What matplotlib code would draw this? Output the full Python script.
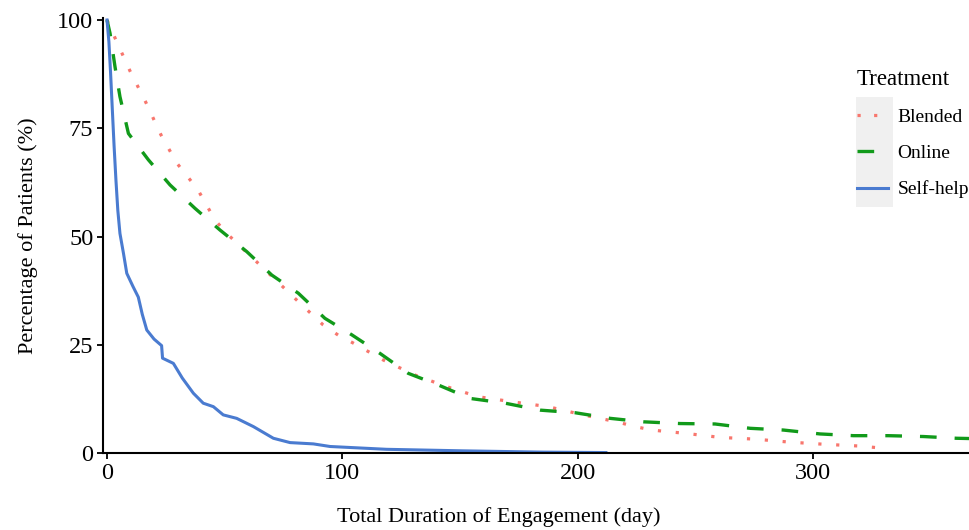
import numpy as np
import matplotlib.pyplot as plt
from matplotlib.lines import Line2D
from matplotlib.patches import Rectangle

plt.rcParams['font.family'] = ['Liberation Serif', 'DejaVu Serif']

# Blended (red, dotted)
blended_x = [0, 3.7, 9.8, 16.4, 23, 29.6, 38.5, 45.9, 50.9, 66.4, 82, 91.8, 98.3, 104.6,
             117.3, 130.9, 144.4, 157.7, 172.5, 187.4, 202.3, 216.6, 224.4, 231.5, 246.4,
             260.5, 275.4, 290.3, 305.2, 320, 327.8, 330]
blended_y = [100, 95.5, 88.2, 81.1, 73.4, 67.0, 60.9, 53.8, 50.7, 42.7, 34.6, 29.6, 27.2, 25.4,
             21.5, 18.0, 15.3, 13.0, 11.8, 10.7, 8.8, 7.2, 6.1, 5.3, 4.5,
             3.6, 3.2, 2.5, 2.0, 1.6, 1.2, 0]

# Online (green, dashed)
online_x = [0, 1.3, 3.4, 5.5, 9.1, 17.6, 26.8, 37.4, 48, 59.4, 70, 81.3, 92.6, 104, 116,
            128, 140.8, 154.3, 169.2, 184, 198.9, 213.8, 228, 243.5, 258.4, 273.3, 287.4,
            303, 317.2, 332, 347, 361, 370]
online_y = [100, 96.9, 89.2, 82.3, 73.8, 67.7, 61.9, 56.5, 51.5, 46.5, 41.1, 36.9, 31.1, 27.3, 23.0,
            18.4, 15.7, 12.6, 11.5, 9.9, 9.3, 8.0, 7.2, 6.8, 6.7, 5.7, 5.3,
            4.4, 4.0, 4.0, 3.8, 3.4, 3.3]

# Self-help (blue, solid)
selfhelp_x = [0, 0.8, 1.5, 2.2, 3.0, 3.8, 4.6, 5.5, 7.0, 8.4, 11.0, 13.3, 15.0, 16.9, 20.0,
              23.2, 23.6, 28.2, 32.0, 36.7, 40.9, 45.2, 49.4, 55.1, 62.2, 70.7, 77.8, 87.7,
              94.8, 118.8, 151, 185, 212]
selfhelp_y = [100, 95, 88, 80, 71, 63, 56, 50.7, 46.1, 41.5, 38.5, 36.0, 32.0, 28.4, 26.3,
              24.8, 21.9, 20.7, 17.3, 13.8, 11.5, 10.7, 8.8, 8.0, 6.1, 3.4, 2.4, 2.1,
              1.5, 0.85, 0.5, 0.2, 0.1]

labels = ["Blended", "Online", "Self-help"]
colors = ["#F8766D", "#119A1A", "#4A7BD0"]

fig = plt.figure(figsize=(9.69, 5.30), dpi=100)
ax = fig.add_axes([0.1063, 0.1453, 0.8937, 0.8207])

ax.plot(blended_x, blended_y, color=colors[0], lw=2.3, linestyle=(0, (1, 4.6)),
        dash_capstyle='butt')
ax.plot(online_x, online_y, color=colors[1], lw=2.4, linestyle=(0, (5, 5.4)))
ax.plot(selfhelp_x, selfhelp_y, color=colors[2], lw=2.2)

ax.set_xlim(-1.7, 366.3)
ax.set_ylim(0, 100.46)
ax.set_xticks([0, 100, 200, 300])
ax.set_yticks([0, 25, 50, 75, 100])
for s in ['top', 'right']:
    ax.spines[s].set_visible(False)
for s in ['left', 'bottom']:
    ax.spines[s].set_linewidth(1.5)
ax.tick_params(labelsize=17.5, length=4, width=1.3, colors='black', pad=3)
ax.set_xlabel("Total Duration of Engagement (day)", fontsize=16)
ax.xaxis.set_label_coords(0.457, -0.125)
ax.set_ylabel("Percentage of Patients (%)", fontsize=16, labelpad=14)

# legend key background
fig.patches.append(Rectangle((856 / 969, 1 - 207 / 530), 37 / 969, 110 / 530,
                             transform=fig.transFigure, facecolor='#F0F0F0',
                             edgecolor='none', zorder=4))
h1 = Line2D([], [], color=colors[0], lw=2.3, linestyle=(0, (1, 4.2)))
h2 = Line2D([], [], color=colors[1], lw=2.4, linestyle=(0, (5, 5.4)))
h3 = Line2D([], [], color=colors[2], lw=2.2)
leg = fig.legend([h1, h2, h3], labels, title="Treatment", loc='upper left',
                 bbox_to_anchor=(851 / 969, 1 - 63 / 530), frameon=False,
                 fontsize=14, title_fontsize=16.5, handlelength=1.6, handletextpad=0.5,
                 labelspacing=0.95, alignment='left', borderaxespad=0, borderpad=0.3)
leg.set_zorder(5)

fig.savefig("out.png", dpi=100)
